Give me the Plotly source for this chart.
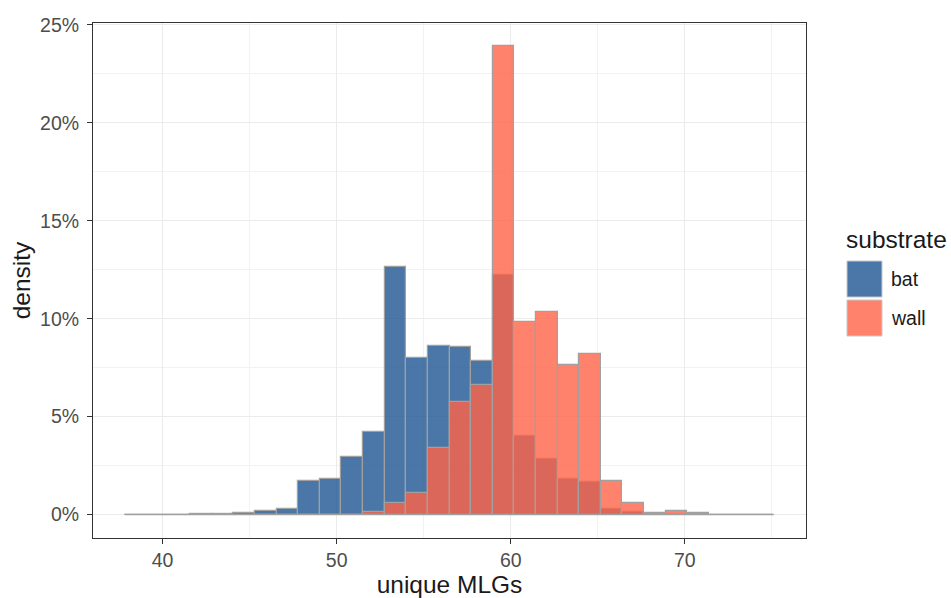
import plotly.graph_objects as go

# Histogram bins (30 equal-width bins)
bin_start = 37.862
bin_width = 36 / 29
n_bins = 30

# Density (%) per bin for each substrate
bat_density = [0, 0, 0, 0.03, 0.05, 0.08, 0.18, 0.28, 1.70, 1.84,
               2.94, 4.21, 12.66, 8.00, 8.59, 8.54, 7.83, 12.24, 4.02, 2.82,
               1.84, 1.67, 0.31, 0.12, 0, 0, 0, 0, 0, 0]
wall_density = [0, 0, 0, 0, 0, 0, 0, 0, 0, 0,
                0, 0.14, 0.60, 1.08, 3.42, 5.74, 6.64, 23.90, 9.85, 10.36,
                7.64, 8.20, 1.74, 0.57, 0.07, 0.17, 0.07, 0, 0, 0]

substrates = ["bat", "wall"]
fills = {"bat": "rgba(29,85,146,0.8)", "wall": "rgba(255,99,71,0.8)"}
outline = "#a0a0a0"

edges = [bin_start + i * bin_width for i in range(n_bins + 1)]
centers = [(edges[i] + edges[i + 1]) / 2 for i in range(n_bins)]

fig = go.Figure()

# zero-height bins still show their outline along the baseline
fig.add_trace(go.Scatter(x=[edges[0], edges[-1]], y=[0, 0], mode="lines",
                         line=dict(color=outline, width=1.2),
                         showlegend=False, hoverinfo="skip"))

for name, vals in zip(substrates, [bat_density, wall_density]):
    fig.add_trace(go.Bar(x=centers, y=vals, width=bin_width, name=name,
                         marker=dict(color=fills[name],
                                     line=dict(color=outline, width=1.2)),
                         showlegend=False))

span = edges[-1] - edges[0]
ymax = max(max(bat_density), max(wall_density))

font = "Liberation Sans, Arial, sans-serif"
axis_common = dict(showline=True, linecolor="#333333", linewidth=1, mirror=True,
                   ticks="outside", ticklen=5, tickcolor="#333333",
                   tickfont=dict(family=font, size=19.5, color="#4d4d4d"),
                   showgrid=True, gridcolor="#ebebeb", gridwidth=1,
                   zeroline=False, automargin=False)

M_L, M_R, M_T, M_B = 93, 145, 23, 60
W, H = 951, 598

fig.update_layout(
    width=W, height=H,
    margin=dict(l=M_L, r=M_R, t=M_T, b=M_B),
    paper_bgcolor="white", plot_bgcolor="white",
    barmode="overlay", bargap=0,
    font=dict(family=font),
    xaxis=dict(range=[edges[0] - 0.05 * span, edges[-1] + 0.05 * span],
               tick0=0, dtick=10,
               minor=dict(dtick=5, showgrid=True, gridcolor="#f2f2f2", gridwidth=0.6),
               title=dict(text="unique MLGs", font=dict(size=24.5, color="#1a1a1a"), standoff=6),
               **axis_common),
    yaxis=dict(range=[-0.05 * ymax, 1.05 * ymax],
               tick0=0, dtick=5, ticksuffix="%", ticklabelstandoff=4,
               minor=dict(dtick=2.5, showgrid=True, gridcolor="#f2f2f2", gridwidth=0.6),
               title=dict(text="density", font=dict(size=24.5, color="#1a1a1a"), standoff=2),
               **axis_common),
)

# Legend drawn with shapes and text in paper coordinates
def px_x(px):
    return (px - M_L) / (W - M_L - M_R)

def px_y(py):
    return (H - M_B - py) / (H - M_T - M_B)

fig.add_annotation(x=px_x(844), y=px_y(239), xref="paper", yref="paper",
                   text="substrate", showarrow=False, xanchor="left", yanchor="middle",
                   font=dict(family=font, size=24.5, color="#1a1a1a"))
key_tops = {"bat": 261, "wall": 300}
for name in substrates:
    top = key_tops[name]
    fig.add_shape(type="rect", xref="paper", yref="paper",
                  x0=px_x(847), x1=px_x(882), y0=px_y(top + 36), y1=px_y(top),
                  fillcolor=fills[name], line=dict(color="#c8c8c8", width=1))
    fig.add_annotation(x=px_x(889), y=px_y(top + 18), xref="paper", yref="paper",
                       text=name, showarrow=False, xanchor="left", yanchor="middle",
                       font=dict(family=font, size=19.5, color="#1a1a1a"))

fig.write_html("out.html")
